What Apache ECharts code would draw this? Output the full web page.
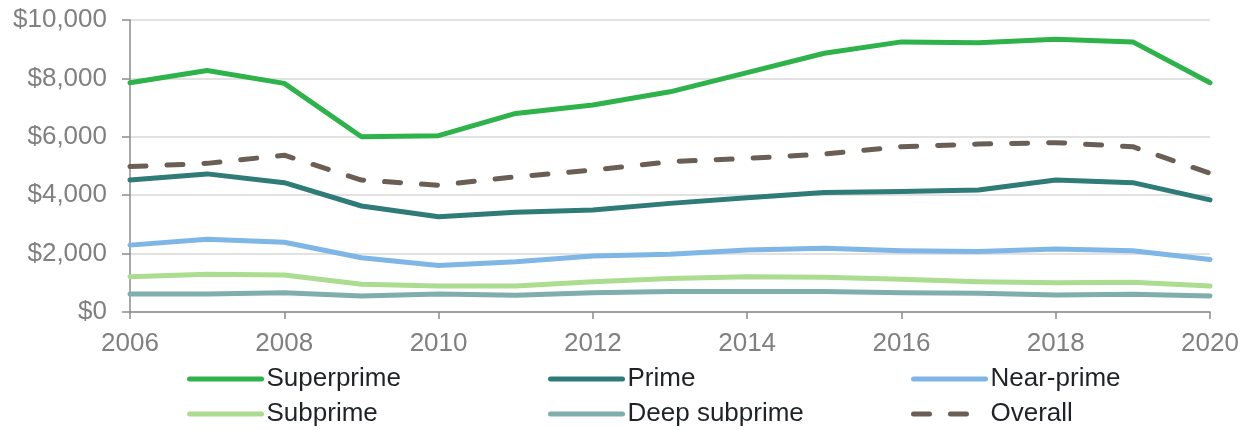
<!DOCTYPE html>
<html><head><meta charset="utf-8">
<script src="https://cdn.jsdelivr.net/npm/echarts@6/dist/echarts.min.js"></script>
<style>html,body{margin:0;padding:0;background:#fff}#c{width:1248px;height:430px}</style>
</head><body><div id="c"></div>
<script>
const years = ['2006','2007','2008','2009','2010','2011','2012','2013','2014','2015','2016','2017','2018','2019','2020'];
const yTicks = [0, 2000, 4000, 6000, 8000, 10000];
const superprime = [7850, 8270, 7830, 6000, 6040, 6800, 7090, 7540, 8200, 8860, 9250, 9220, 9340, 9250, 7850];
const prime = [4520, 4730, 4430, 3630, 3260, 3420, 3490, 3720, 3910, 4090, 4130, 4180, 4520, 4430, 3840];
const nearPrime = [2290, 2490, 2390, 1860, 1590, 1720, 1920, 1980, 2120, 2180, 2100, 2070, 2160, 2100, 1800];
const subprime = [1210, 1290, 1270, 950, 890, 890, 1040, 1150, 1210, 1190, 1120, 1040, 1000, 1020, 890];
const deepSubprime = [620, 620, 660, 550, 620, 570, 660, 700, 700, 700, 660, 640, 580, 610, 550];
const overall = [4980, 5090, 5370, 4520, 4340, 4630, 4860, 5150, 5260, 5410, 5660, 5750, 5800, 5660, 4750];

const FONT = '"Liberation Sans", Arial, sans-serif';
const seriesDefs = [
  {name:'Superprime', data:superprime, color:'#2db34a', type:'solid'},
  {name:'Prime', data:prime, color:'#2e7b78', type:'solid'},
  {name:'Near-prime', data:nearPrime, color:'#7eb6e6', type:'solid'},
  {name:'Subprime', data:subprime, color:'#abdc90', type:'solid'},
  {name:'Deep subprime', data:deepSubprime, color:'#7faead', type:'solid'},
  {name:'Overall', data:overall, color:'#6b5e55', type:[16,21]}
];
const legendPos = [[182,361],[543,361],[906,361],[182,396],[543,396],[906,396]];

const chart = echarts.init(document.getElementById('c'), null, {renderer:'canvas'});
chart.setOption({
  animation:false,
  backgroundColor:'#ffffff',
  grid:{left:130, right:38, top:20, bottom:118, containLabel:false},
  legend: seriesDefs.map((s,i)=>({
    data:[s.name], left:legendPos[i][0], top:legendPos[i][1],
    itemWidth:72, itemHeight:26, itemGap:0,
    itemStyle:{opacity:0},
    lineStyle:{width:5, cap:'round'},
    textStyle:{fontFamily:FONT, fontSize:26, color:'#1f2328', padding:[0,0,0,0]},
    selectedMode:false
  })),
  xAxis:{
    type:'category', data:years, boundaryGap:false,
    axisLine:{lineStyle:{color:'#8c8c8c', width:1.5}},
    axisTick:{show:true, interval:1, length:7, lineStyle:{color:'#8c8c8c', width:1.5}},
    axisLabel:{interval:1, margin:19, fontFamily:FONT, fontSize:26, color:'#808080'},
    splitLine:{show:false}
  },
  yAxis:{
    type:'value', min:yTicks[0], max:yTicks[yTicks.length-1], interval:2000,
    axisLine:{show:true, lineStyle:{color:'#8c8c8c', width:1.5}},
    axisTick:{show:true, length:8, lineStyle:{color:'#8c8c8c', width:1.5}},
    axisLabel:{margin:23, fontFamily:FONT, fontSize:26, color:'#808080',
      formatter:v=>'$'+v.toLocaleString('en-US')},
    splitLine:{lineStyle:{color:'#d9d9d9', width:1.5}}
  },
  series: seriesDefs.map(s=>({
    name:s.name, type:'line', data:s.data, symbol:'none', showSymbol:false,
    color:s.color, z: s.name==='Overall'?3:2,
    lineStyle:{color:s.color, width:5, type:s.type, cap:'round', join:'round'},
    emphasis:{disabled:true}
  }))
});
</script></body></html>
